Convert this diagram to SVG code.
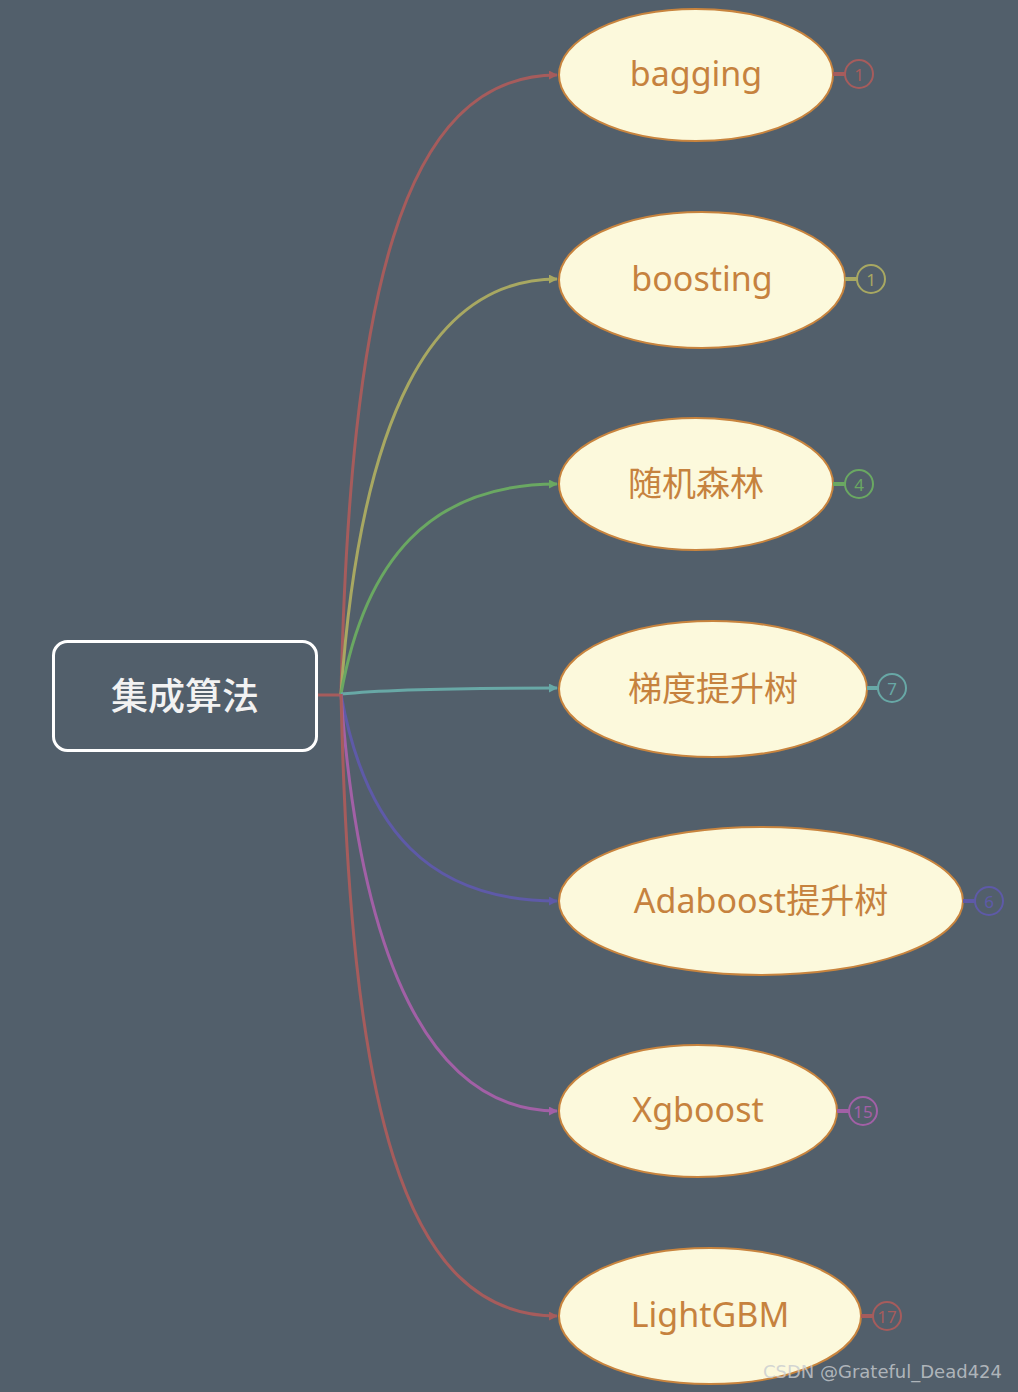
<svg xmlns="http://www.w3.org/2000/svg" width="1018" height="1392" viewBox="0 0 1018 1392">
<defs>
<style>
.node ellipse{fill:#fcf9dc;stroke:#c8843e;stroke-width:2}
.node text{font-family:"Noto Sans","Noto Sans CJK SC",sans-serif;font-size:34px;fill:#c6823e;text-anchor:middle;dominant-baseline:central}
.edge{fill:none;stroke-width:3}
.badge circle{fill:none;stroke-width:2}
.badge text{font-family:"Noto Sans",sans-serif;font-size:17px;text-anchor:middle;dominant-baseline:central}
</style>
<marker id="ar" viewBox="0 0 10 10" refX="9" refY="5" markerWidth="3" markerHeight="3" orient="auto"><path d="M0,0L10,5L0,10z" fill="context-stroke"/></marker>
</defs>
<rect width="1018" height="1392" fill="#525f6b"/>
<g id="connectors">
<path d="M317,695H341" stroke="#a65c5c" class="edge"/>
<path d="M341,694C350,300 400,75 557,75" stroke="#a65c5c" class="edge" marker-end="url(#ar)"/>
<path d="M341,694C360,420 430,279 557,279" stroke="#a8a862" class="edge" marker-end="url(#ar)"/>
<path d="M341,694C365,560 430,484 557,484" stroke="#6aa862" class="edge" marker-end="url(#ar)"/>
<path d="M341,694C380,690 450,688 557,688" stroke="#68a8a6" class="edge" marker-end="url(#ar)"/>
<path d="M341,694C365,830 430,901 557,901" stroke="#5e5aa8" class="edge" marker-end="url(#ar)"/>
<path d="M341,694C360,960 430,1111 557,1111" stroke="#a260a6" class="edge" marker-end="url(#ar)"/>
<path d="M341,694C350,1100 400,1316 557,1316" stroke="#a65c5c" class="edge" marker-end="url(#ar)"/>
</g>
<g id="root">
<rect x="53.5" y="641.5" width="263" height="109" rx="14" fill="#525f6b" stroke="#ffffff" stroke-width="3"/>
<text x="185" y="694" font-family="'Noto Sans CJK SC',sans-serif" font-size="37" font-weight="500" fill="#f2f2f2" text-anchor="middle" dominant-baseline="central">集成算法</text>
</g>
<g id="n1" class="node"><ellipse cx="696" cy="75" rx="137" ry="66"/><text x="696" y="73">bagging</text></g>
<g id="n2" class="node"><ellipse cx="702" cy="280" rx="143" ry="68"/><text x="702" y="278">boosting</text></g>
<g id="n3" class="node"><ellipse cx="696" cy="484" rx="137" ry="66"/><text x="696" y="483">随机森林</text></g>
<g id="n4" class="node"><ellipse cx="713" cy="689" rx="154" ry="68"/><text x="713" y="688">梯度提升树</text></g>
<g id="n5" class="node"><ellipse cx="761" cy="901" rx="202" ry="74"/><text x="761" y="900">Adaboost提升树</text></g>
<g id="n6" class="node"><ellipse cx="698" cy="1111" rx="139" ry="66"/><text x="698" y="1109">Xgboost</text></g>
<g id="n7" class="node"><ellipse cx="710" cy="1316" rx="151" ry="68"/><text x="710" y="1314">LightGBM</text></g>
<g id="badges">
<g class="badge"><path d="M833,74H845" stroke="#a65c5c" stroke-width="4"/><circle cx="859" cy="74" r="14" stroke="#a65c5c"/><text x="859" y="74" fill="#a65c5c">1</text></g>
<g class="badge"><path d="M845,279H857" stroke="#a8a862" stroke-width="4"/><circle cx="871" cy="279" r="14" stroke="#a8a862"/><text x="871" y="279" fill="#a8a862">1</text></g>
<g class="badge"><path d="M833,484H845" stroke="#6aa862" stroke-width="4"/><circle cx="859" cy="484" r="14" stroke="#6aa862"/><text x="859" y="484" fill="#6aa862">4</text></g>
<g class="badge"><path d="M867,688H878" stroke="#68a8a6" stroke-width="4"/><circle cx="892" cy="688" r="14" stroke="#68a8a6"/><text x="892" y="688" fill="#68a8a6">7</text></g>
<g class="badge"><path d="M963,901H975" stroke="#5e5aa8" stroke-width="4"/><circle cx="989" cy="901" r="14" stroke="#5e5aa8"/><text x="989" y="901" fill="#5e5aa8">6</text></g>
<g class="badge"><path d="M837,1111H849" stroke="#a260a6" stroke-width="4"/><circle cx="863" cy="1111" r="14" stroke="#a260a6"/><text x="863" y="1111" fill="#a260a6">15</text></g>
<g class="badge"><path d="M861,1316H873" stroke="#a65c5c" stroke-width="4"/><circle cx="887" cy="1316" r="14" stroke="#a65c5c"/><text x="887" y="1316" fill="#a65c5c">17</text></g>
</g>
<text x="1002" y="1378" font-family="'DejaVu Sans',sans-serif" font-size="18" fill="#c8ccd0" fill-opacity="0.8" text-anchor="end">CSDN @Grateful_Dead424</text>
</svg>
